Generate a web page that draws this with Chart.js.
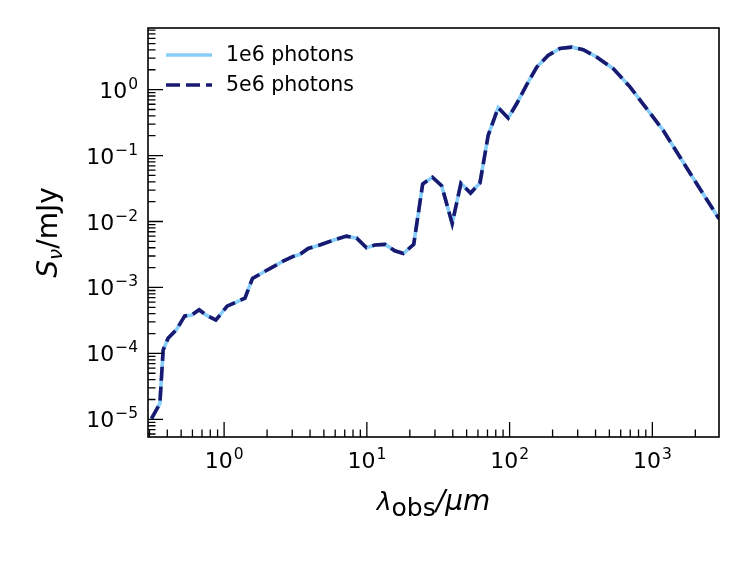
<!DOCTYPE html>
<html>
<head>
<meta charset="utf-8">
<script src="https://cdn.jsdelivr.net/npm/chart.js@4"></script>
<style>
  html, body { margin:0; padding:0; background:#fff; }
  #wrap { width:747px; height:561px; position:relative; }
</style>
</head>
<body>
<div id="wrap"><canvas id="sedChart"></canvas></div>
<script>
// SED: observed wavelength (micron) vs flux density (mJy)
const lambdaObs = [0.31, 0.355, 0.374, 0.405, 0.464, 0.53, 0.59, 0.668, 0.75, 0.875,
                   1.05, 1.22, 1.4, 1.58, 1.88, 2.2, 2.59, 3.05, 3.39, 3.88,
                   4.68, 5.8, 7.2, 8.5, 9.95, 11.4, 13.4, 15.7, 18, 21.3,
                   24.6, 28.8, 33.4, 39.6, 45.6, 53.3, 62, 70.8, 83.2, 97.7,
                   112, 131, 155, 186, 225, 272, 328, 407, 532, 697,
                   912, 1190, 1560, 2040, 2930];
const flux1e6 = [1.03e-5, 1.74e-5, 1.12e-4, 1.7e-4, 2.3e-4, 3.7e-4, 3.8e-4, 4.6e-4, 3.8e-4, 3.2e-4,
                 5.2e-4, 6.0e-4, 6.9e-4, 1.37e-3, 1.7e-3, 2.05e-3, 2.5e-3, 2.96e-3, 3.16e-3, 3.9e-3,
                 4.4e-3, 5.2e-3, 6.0e-3, 5.6e-3, 4.0e-3, 4.4e-3, 4.5e-3, 3.6e-3, 3.27e-3, 4.5e-3,
                 3.7e-2, 4.7e-2, 3.5e-2, 9.3e-3, 3.8e-2, 2.7e-2, 3.85e-2, 0.203, 0.533, 0.37,
                 0.61, 1.16, 2.2, 3.3, 4.2, 4.4, 4.04, 3.12, 2.08, 1.1,
                 0.515, 0.242, 0.095, 0.0377, 0.011];
const flux5e6 = [1.03e-5, 1.74e-5, 1.12e-4, 1.7e-4, 2.3e-4, 3.7e-4, 3.8e-4, 4.6e-4, 3.8e-4, 3.2e-4,
                 5.2e-4, 6.0e-4, 6.9e-4, 1.37e-3, 1.7e-3, 2.05e-3, 2.5e-3, 2.96e-3, 3.16e-3, 3.9e-3,
                 4.4e-3, 5.2e-3, 6.0e-3, 5.6e-3, 4.0e-3, 4.4e-3, 4.5e-3, 3.6e-3, 3.27e-3, 4.5e-3,
                 3.7e-2, 4.7e-2, 3.5e-2, 9.3e-3, 3.8e-2, 2.7e-2, 3.85e-2, 0.203, 0.533, 0.37,
                 0.61, 1.16, 2.2, 3.3, 4.2, 4.4, 4.04, 3.12, 2.08, 1.1,
                 0.515, 0.242, 0.095, 0.0377, 0.011];
const seriesLabels = ["1e6 photons", "5e6 photons"];

const xMajor = [1, 10, 100, 1000];
const xMajorExp = ["0", "1", "2", "3"];
const yMajor = [1e-5, 1e-4, 1e-3, 1e-2, 1e-1, 1];
const yMajorExp = ["\u22125", "\u22124", "\u22123", "\u22122", "\u22121", "0"];
const xRange = [0.293, 2930];
const yRange = [5.4e-6, 8.6];

const FONT = "'DejaVu Sans', sans-serif";

function minorTicks(lo, hi) {
    const out = [];
    for (let d = Math.floor(Math.log10(lo)); d <= Math.ceil(Math.log10(hi)); d++) {
        for (let m = 2; m <= 9; m++) {
            const v = m * Math.pow(10, d);
            if (v >= lo && v <= hi) out.push(v);
        }
    }
    return out;
}

// "10" with a raised exponent, drawn at baseline y
function drawPow(ctx, exp, x, y, align) {
    ctx.font = `22px ${FONT}`;
    const wb = ctx.measureText("10").width;
    ctx.font = `15.5px ${FONT}`;
    const we = ctx.measureText(exp).width;
    const total = wb + 1 + we;
    let x0 = align === "right" ? x - total : x - total / 2;
    ctx.textAlign = "left";
    ctx.textBaseline = "alphabetic";
    ctx.font = `22px ${FONT}`;
    ctx.fillText("10", x0, y);
    ctx.font = `15.5px ${FONT}`;
    ctx.fillText(exp, x0 + wb + 1, y - 9);
}

// draw a run of text pieces (font + vertical offset each), centred on cx
function drawRun(ctx, parts, cx, y) {
    let w = 0;
    parts.forEach(p => { ctx.font = p.f; p.w = ctx.measureText(p.t).width; w += p.w; });
    let x = cx - w / 2;
    ctx.textAlign = "left";
    ctx.textBaseline = "alphabetic";
    parts.forEach(p => { ctx.font = p.f; ctx.fillText(p.t, x, y + p.dy); x += p.w; });
}

const axesPlugin = {
    id: "mplAxes",
    afterDraw(chart) {
        const { ctx, chartArea: a, scales } = chart;
        const xs = scales.x, ys = scales.y;
        ctx.save();
        ctx.fillStyle = "#000";
        ctx.strokeStyle = "#000";
        ctx.lineWidth = 1.3;

        // inward ticks on bottom / left spines
        ctx.beginPath();
        xMajor.forEach(v => { const p = xs.getPixelForValue(v); ctx.moveTo(p, a.bottom); ctx.lineTo(p, a.bottom - 15); });
        minorTicks(xRange[0], xRange[1]).forEach(v => { const p = xs.getPixelForValue(v); ctx.moveTo(p, a.bottom); ctx.lineTo(p, a.bottom - 7.5); });
        yMajor.forEach(v => { const p = ys.getPixelForValue(v); ctx.moveTo(a.left, p); ctx.lineTo(a.left + 15, p); });
        minorTicks(yRange[0], yRange[1]).forEach(v => { const p = ys.getPixelForValue(v); ctx.moveTo(a.left, p); ctx.lineTo(a.left + 7.5, p); });
        ctx.stroke();

        ctx.lineWidth = 1.6;
        ctx.strokeRect(a.left, a.top, a.right - a.left, a.bottom - a.top);

        // tick labels
        xMajor.forEach((v, i) => drawPow(ctx, xMajorExp[i], xs.getPixelForValue(v), a.bottom + 31, "center"));
        yMajor.forEach((v, i) => drawPow(ctx, yMajorExp[i], a.left - 10, ys.getPixelForValue(v) + 8, "right"));

        // x axis label: lambda_obs / mu m
        drawRun(ctx, [
            { t: "\u03bb", f: `italic 25px ${FONT}`, dy: 0 },
            { t: "obs", f: `25px ${FONT}`, dy: 6 },
            { t: "/\u03bcm", f: `italic 28px ${FONT}`, dy: 0 },
        ], (a.left + a.right) / 2, 510);

        // y axis label: S_nu / mJy (rotated)
        ctx.save();
        ctx.translate(57, (a.top + a.bottom) / 2);
        ctx.rotate(-Math.PI / 2);
        drawRun(ctx, [
            { t: "S", f: `italic 28px ${FONT}`, dy: 0 },
            { t: "\u03bd", f: `italic 20px ${FONT}`, dy: 5 },
            { t: "/mJy", f: `28px ${FONT}`, dy: 0 },
        ], 0, 0);
        ctx.restore();

        // legend (upper left, inside axes)
        const rows = [55, 85];
        chart.data.datasets.forEach((ds, i) => {
            ctx.beginPath();
            ctx.strokeStyle = ds.borderColor;
            ctx.lineWidth = ds.borderWidth;
            ctx.setLineDash(ds.borderDash || []);
            ctx.moveTo(166, rows[i]);
            ctx.lineTo(212, rows[i]);
            ctx.stroke();
            ctx.setLineDash([]);
            ctx.font = `20.5px ${FONT}`;
            ctx.textBaseline = "middle";
            ctx.textAlign = "left";
            ctx.fillStyle = "#000";
            ctx.fillText(ds.label, 226, rows[i] + 1);
        });
        ctx.restore();
    }
};

const toPts = ys => lambdaObs.map((x, i) => ({ x, y: ys[i] }));

new Chart(document.getElementById("sedChart").getContext("2d"), {
    type: "line",
    data: {
        datasets: [
            { label: seriesLabels[0], data: toPts(flux1e6), order: 1,
              borderColor: "#87cefa", borderWidth: 3.6, pointRadius: 0, tension: 0, fill: false },
            { label: seriesLabels[1], data: toPts(flux5e6), order: 0,
              borderColor: "#191970", borderWidth: 3.6, borderDash: [14, 6], pointRadius: 0, tension: 0, fill: false },
        ],
    },
    options: {
        responsive: true, maintainAspectRatio: false, animation: false,
        layout: { padding: { left: 148, top: 28, right: 28, bottom: 124 } },
        plugins: { legend: { display: false }, tooltip: { enabled: false } },
        scales: {
            x: { type: "logarithmic", min: xRange[0], max: xRange[1], display: false },
            y: { type: "logarithmic", min: yRange[0], max: yRange[1], display: false },
        },
    },
    plugins: [axesPlugin],
});
</script>
</body>
</html>
